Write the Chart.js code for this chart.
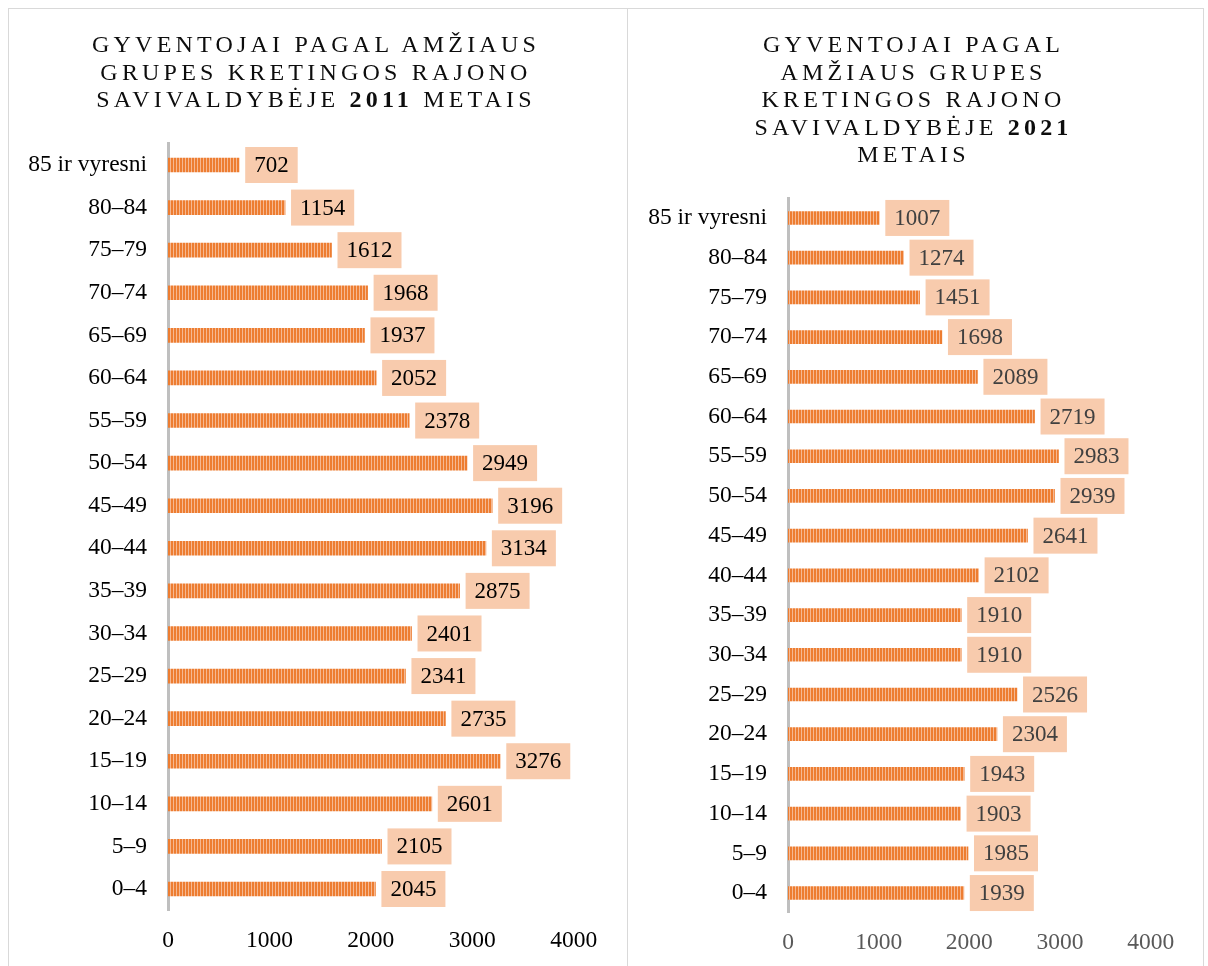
<!DOCTYPE html>
<html>
<head>
<meta charset="utf-8">
<script src="https://cdn.jsdelivr.net/npm/chart.js@4.4.0/dist/chart.umd.min.js"></script>
<style>
  body { margin: 0; background: #fff; font-family: "Liberation Serif", "Times New Roman", serif; }
  .panel { position: absolute; top: 8px; height: 970px; border: 1px solid #d9d9d9; box-sizing: border-box; background: #fff; }
  #p1 { left: 8px; width: 620px; }
  #p2 { left: 627px; width: 577px; }
  .title { position: absolute; left: 0; right: 0; top: 22px; text-align: center; font-size: 24px;
           letter-spacing: 4.2px; padding-right: 4px; line-height: 27.5px; color: #0d0d0d; z-index: 2; }
  canvas { position: absolute; left: 0; top: 0; }
</style>
</head>
<body>
<div class="panel" id="p1">
  <div class="title">GYVENTOJAI PAGAL AMŽIAUS<br>GRUPES KRETINGOS RAJONO<br>SAVIVALDYBĖJE <b>2011</b> METAIS</div>
  <canvas id="chart2011" width="618" height="960"></canvas>
</div>
<div class="panel" id="p2">
  <div class="title">GYVENTOJAI PAGAL<br>AMŽIAUS GRUPES<br>KRETINGOS RAJONO<br>SAVIVALDYBĖJE <b>2021</b><br>METAIS</div>
  <canvas id="chart2021" width="575" height="960"></canvas>
</div>
<script>
// age groups, youngest first (drawn bottom to top)
const ageGroups = ['0–4', '5–9', '10–14', '15–19', '20–24', '25–29', '30–34', '35–39', '40–44',
    '45–49', '50–54', '55–59', '60–64', '65–69', '70–74', '75–79', '80–84', '85 ir vyresni'];
const pop2011 = [2045, 2105, 2601, 3276, 2735, 2341, 2401, 2875, 3134, 3196, 2949, 2378, 2052, 1937, 1968, 1612, 1154, 702];
const pop2021 = [1939, 1985, 1903, 1943, 2304, 2526, 1910, 1910, 2102, 2641, 2939, 2983, 2719, 2089, 1698, 1451, 1274, 1007];
const xTicks = [0, 1000, 2000, 3000, 4000];

const serif = '"Liberation Serif", "Times New Roman", serif';

// striped orange fill like the excel bars
function stripePattern() {
    const c = document.createElement('canvas');
    c.width = 3; c.height = 1;
    const g = c.getContext('2d');
    g.fillStyle = '#ED7D31';
    g.fillRect(0, 0, 3, 1);
    g.fillStyle = '#F6B891';
    g.fillRect(2, 0, 1, 1);
    return g.createPattern(c, 'repeat');
}

// value boxes at the end of each bar
const valueBoxes = {
    id: 'valueBoxes',
    afterDatasetsDraw(chart, args, opts) {
        const ctx = chart.ctx;
        const meta = chart.getDatasetMeta(0);
        const values = chart.data.datasets[0].data;
        ctx.save();
        ctx.font = '23px ' + serif;
        ctx.textAlign = 'center';
        ctx.textBaseline = 'middle';
        meta.data.forEach((bar, i) => {
            const txt = String(values[i]);
            const w = ctx.measureText(txt).width + 18;
            const x0 = bar.x + 6;
            ctx.fillStyle = '#F8CBAD';
            ctx.fillRect(x0, bar.y - 18, w, 36);
            ctx.fillStyle = opts.color;
            ctx.fillText(txt, x0 + w / 2, bar.y + 1);
        });
        ctx.restore();
    }
};

function makeChart(id, values, cfg) {
    const ctx = document.getElementById(id).getContext('2d');
    return new Chart(ctx, {
        type: 'bar',
        data: {
            labels: ageGroups,
            datasets: [{
                data: values,
                backgroundColor: stripePattern(),
                borderWidth: 0,
                barThickness: cfg.thickness
            }]
        },
        options: {
            indexAxis: 'y',
            responsive: false,
            animation: false,
            layout: { padding: { top: cfg.top, right: cfg.right, left: 0, bottom: 0 } },
            scales: {
                x: {
                    min: 0,
                    max: 4000,
                    afterBuildTicks: s => { s.ticks = xTicks.map(v => ({ value: v })); },
                    afterFit: s => { s.height = cfg.xHeight; },
                    grid: { display: false },
                    border: { display: false },
                    ticks: {
                        color: cfg.tickColor, font: { family: serif, size: 23.5 }, padding: 8, maxRotation: 0,
                        callback: v => String(v)
                    }
                },
                y: {
                    reverse: true,
                    afterFit: s => { s.width = cfg.left; },
                    grid: { display: false },
                    border: { color: '#BFBFBF', width: 3 },
                    ticks: { color: '#000', font: { family: serif, size: 23.5 }, padding: 13 }
                }
            },
            plugins: {
                legend: { display: false },
                tooltip: { enabled: false },
                valueBoxes: { color: cfg.labelColor }
            }
        },
        plugins: [valueBoxes]
    });
}

makeChart('chart2011', pop2011, {
    thickness: 14, top: 134.7, right: 53.3, left: 159, xHeight: 58.7,
    tickColor: '#000', labelColor: '#000'
});

makeChart('chart2021', pop2021, {
    thickness: 13, top: 189.1, right: 52.3, left: 160, xHeight: 56.1,
    tickColor: '#595959', labelColor: '#404040'
});
</script>
</body>
</html>
